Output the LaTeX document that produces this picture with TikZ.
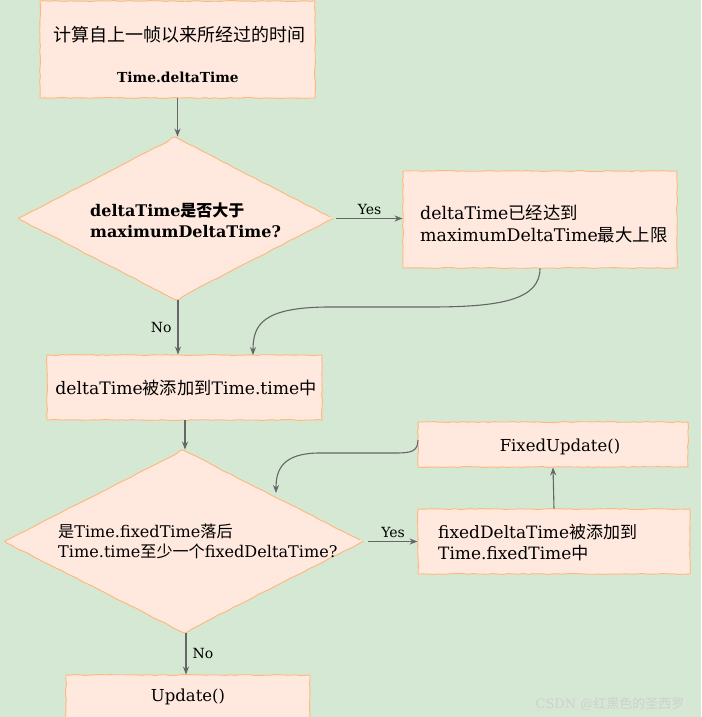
\documentclass[tikz,border=0pt]{standalone}
\usepackage{fontspec}
\setmainfont{DejaVu Serif}
\newfontfamily\cjk{Noto Sans CJK SC}
\newcommand\zh[1]{{\cjk #1}}
\usetikzlibrary{shapes.geometric,arrows.meta,decorations.pathmorphing}
\definecolor{bgc}{HTML}{D5E8D4}
\definecolor{boxfill}{HTML}{FFE8DE}
\definecolor{boxline}{HTML}{FFB77A}
\definecolor{arr}{HTML}{666666}
\begin{document}
\pgfmathsetseed{7}
\begin{tikzpicture}[x=1pt,y=-1pt,
  sketch/.style={decorate,decoration={random steps,segment length=5pt,amplitude=0.5pt}},
  box/.style={rectangle,draw=boxline,fill=boxfill,line width=0.9pt,sketch,inner sep=0pt},
  dia/.style={diamond,draw=boxline,fill=boxfill,line width=0.9pt,sketch,inner sep=0pt,rounded corners=3pt},
  txt/.style={font=\fontsize{16.5}{21}\selectfont,align=left,inner sep=0pt},
  conn/.style={draw=arr,line width=1.1pt,-{Stealth[length=8pt,width=6pt]}},
  lbl/.style={font=\fontsize{14}{16}\selectfont,inner sep=0pt}
]
\fill[bgc] (0,0) rectangle (701,717);
\useasboundingbox (0,0) rectangle (701,717);
% shapes
\node[box,minimum width=275pt,minimum height=97pt] (top) at (177.5,49.5) {};
\node[dia,minimum width=315pt,minimum height=163pt] (d1) at (175.5,218.5) {};
\node[box,minimum width=274pt,minimum height=97pt] (b1) at (540,219.5) {};
\node[box,minimum width=275pt,minimum height=65pt] (b2) at (184.5,387.5) {};
\node[dia,minimum width=359pt,minimum height=183pt] (d2) at (183.5,541.5) {};
\node[box,minimum width=272pt,minimum height=65pt] (b3) at (554,541.5) {};
\node[box,minimum width=270pt,minimum height=45pt] (fu) at (553,444.5) {};
\node[box,minimum width=244pt,minimum height=44pt] (up) at (188,697) {};
% texts
\node[txt,font=\fontsize{18}{22}\selectfont] (t1) at (179,35) {\zh{计算自上一帧以来所经过的时间}};
\node[txt,font=\bfseries\fontsize{13.8}{16}\selectfont] (t2) at (178,77) {Time.deltaTime};
\node[txt,anchor=west,font=\bfseries\fontsize{16}{21}\selectfont] (t3) at (90,220) {deltaTime\zh{是否大于}\\maximumDeltaTime?};
\node[txt,anchor=west,font=\fontsize{17.4}{22}\selectfont] (t4) at (420,224) {deltaTime\zh{已经达到}\\maximumDeltaTime\zh{最大上限}};
\node[txt,font=\fontsize{17.2}{21}\selectfont] (t5) at (186,388) {deltaTime\zh{被添加到}Time.time\zh{中}};
\node[txt,anchor=west,font=\fontsize{16.1}{20}\selectfont] (t6) at (58,541) {\zh{是}Time.fixedTime\zh{落后}\\Time.time\zh{至少一个}fixedDeltaTime?};
\node[txt,anchor=west,font=\fontsize{17}{21}\selectfont] (t7) at (438,543) {fixedDeltaTime\zh{被添加到}\\Time.fixedTime\zh{中}};
\node[txt] (t8) at (560,447) {FixedUpdate()};
\node[txt] (t9) at (188,697) {Update()};
% connectors
\draw[conn] (top.south) -- (top.south |- d1.north);
\draw[conn] (d1.east) ++(3,0) coordinate (d1e) -- (d1e -| b1.west) node[lbl,midway,above=3pt] (yes1) {Yes};
\coordinate (c1s) at (b1.south);
\coordinate (c1e) at (253,355);
\draw[conn] (c1s) .. controls (540,300) and (500,307) .. (430,307) -- (330,307) .. controls (262,307) and (253,325) .. (c1e);
\coordinate (d1b) at (178,300);
\draw[conn] (d1b) -- (d1b |- b2.north) node[lbl,midway,left=6pt] (no1) {No};
\coordinate (b2s) at (185,420);
\draw[conn] (b2s) -- (b2s |- d2.north);
\draw[conn] (d2.east) ++(5,0) coordinate (d2e) -- (d2e -| b3.west) node[lbl,midway,above=3pt] (yes2) {Yes};
\draw[conn] (b3.north) -- (fu.south);
\coordinate (fus) at (418,440);
\coordinate (d2t) at (276,493);
\draw[conn] (fus) .. controls (418,452) and (410,453) .. (395,453) -- (320,453) .. controls (282,453) and (276,470) .. (d2t);
\coordinate (d2b) at (186,633);
\draw[conn] (d2b) -- (d2b |- up.north) node[lbl,midway,right=6pt] (no2) {No};
% watermark
\node[font=\fontsize{13}{15}\selectfont,text=white!62!gray,inner sep=0pt] (wm) at (610,704) {CSDN @\zh{红黑色的圣西罗}};
\end{tikzpicture}
\end{document}
